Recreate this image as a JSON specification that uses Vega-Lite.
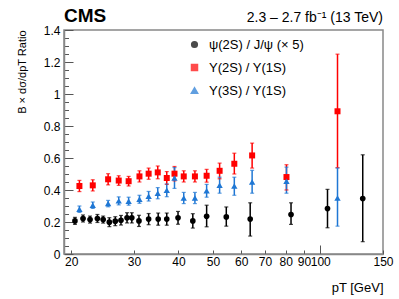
{
  "$schema": "https://vega.github.io/schema/vega-lite/v6.json",
  "width": 319,
  "height": 224,
  "autosize": {"type": "none"},
  "padding": {"left": 64, "top": 30, "right": 16, "bottom": 45},
  "background": "white",
  "config": {
    "font": "Liberation Sans",
    "view": {"stroke": "#888", "strokeWidth": 1.5},
    "axis": {"domainColor": "#888", "domainWidth": 1.5, "tickColor": "#555", "labelFont": "Liberation Sans", "labelFontSize": 12, "labelColor": "#000", "titleFont": "Liberation Sans", "titleFontWeight": "normal", "titleColor": "#000", "grid": false, "labelBound": false, "labelOverlap": false}
  },
  "datasets": {
    "pts": [
      {"s": "ψ(2S) / J/ψ (× 5)", "pt": 20.5, "v": 0.207, "lo": 0.185, "hi": 0.229},
      {"s": "ψ(2S) / J/ψ (× 5)", "pt": 21.6, "v": 0.222, "lo": 0.200, "hi": 0.244},
      {"s": "ψ(2S) / J/ψ (× 5)", "pt": 22.6, "v": 0.215, "lo": 0.193, "hi": 0.237},
      {"s": "ψ(2S) / J/ψ (× 5)", "pt": 23.7, "v": 0.222, "lo": 0.197, "hi": 0.247},
      {"s": "ψ(2S) / J/ψ (× 5)", "pt": 24.6, "v": 0.215, "lo": 0.193, "hi": 0.237},
      {"s": "ψ(2S) / J/ψ (× 5)", "pt": 25.6, "v": 0.199, "lo": 0.171, "hi": 0.227},
      {"s": "ψ(2S) / J/ψ (× 5)", "pt": 26.6, "v": 0.205, "lo": 0.177, "hi": 0.233},
      {"s": "ψ(2S) / J/ψ (× 5)", "pt": 27.6, "v": 0.211, "lo": 0.181, "hi": 0.241},
      {"s": "ψ(2S) / J/ψ (× 5)", "pt": 28.7, "v": 0.226, "lo": 0.194, "hi": 0.258},
      {"s": "ψ(2S) / J/ψ (× 5)", "pt": 29.6, "v": 0.226, "lo": 0.194, "hi": 0.258},
      {"s": "ψ(2S) / J/ψ (× 5)", "pt": 31.0, "v": 0.207, "lo": 0.172, "hi": 0.242},
      {"s": "ψ(2S) / J/ψ (× 5)", "pt": 33.0, "v": 0.218, "lo": 0.183, "hi": 0.253},
      {"s": "ψ(2S) / J/ψ (× 5)", "pt": 35.1, "v": 0.218, "lo": 0.180, "hi": 0.256},
      {"s": "ψ(2S) / J/ψ (× 5)", "pt": 37.1, "v": 0.218, "lo": 0.180, "hi": 0.256},
      {"s": "ψ(2S) / J/ψ (× 5)", "pt": 39.9, "v": 0.226, "lo": 0.186, "hi": 0.266},
      {"s": "ψ(2S) / J/ψ (× 5)", "pt": 43.9, "v": 0.207, "lo": 0.162, "hi": 0.252},
      {"s": "ψ(2S) / J/ψ (× 5)", "pt": 48.0, "v": 0.236, "lo": 0.170, "hi": 0.305},
      {"s": "ψ(2S) / J/ψ (× 5)", "pt": 54.5, "v": 0.232, "lo": 0.174, "hi": 0.294},
      {"s": "ψ(2S) / J/ψ (× 5)", "pt": 63.6, "v": 0.218, "lo": 0.112, "hi": 0.320},
      {"s": "ψ(2S) / J/ψ (× 5)", "pt": 82.8, "v": 0.247, "lo": 0.185, "hi": 0.320},
      {"s": "ψ(2S) / J/ψ (× 5)", "pt": 104.8, "v": 0.284, "lo": 0.164, "hi": 0.404},
      {"s": "ψ(2S) / J/ψ (× 5)", "pt": 131.6, "v": 0.347, "lo": 0.077, "hi": 0.620},
      {"s": "Υ(2S) / Υ(1S)", "pt": 21.1, "v": 0.425, "lo": 0.390, "hi": 0.460},
      {"s": "Υ(2S) / Υ(1S)", "pt": 23.0, "v": 0.429, "lo": 0.394, "hi": 0.464},
      {"s": "Υ(2S) / Υ(1S)", "pt": 25.4, "v": 0.467, "lo": 0.432, "hi": 0.502},
      {"s": "Υ(2S) / Υ(1S)", "pt": 27.2, "v": 0.459, "lo": 0.429, "hi": 0.489},
      {"s": "Υ(2S) / Υ(1S)", "pt": 29.0, "v": 0.455, "lo": 0.425, "hi": 0.485},
      {"s": "Υ(2S) / Υ(1S)", "pt": 31.1, "v": 0.485, "lo": 0.450, "hi": 0.520},
      {"s": "Υ(2S) / Υ(1S)", "pt": 33.0, "v": 0.502, "lo": 0.467, "hi": 0.537},
      {"s": "Υ(2S) / Υ(1S)", "pt": 35.0, "v": 0.510, "lo": 0.470, "hi": 0.550},
      {"s": "Υ(2S) / Υ(1S)", "pt": 37.1, "v": 0.475, "lo": 0.435, "hi": 0.515},
      {"s": "Υ(2S) / Υ(1S)", "pt": 39.0, "v": 0.502, "lo": 0.457, "hi": 0.547},
      {"s": "Υ(2S) / Υ(1S)", "pt": 41.4, "v": 0.485, "lo": 0.450, "hi": 0.520},
      {"s": "Υ(2S) / Υ(1S)", "pt": 44.5, "v": 0.485, "lo": 0.450, "hi": 0.520},
      {"s": "Υ(2S) / Υ(1S)", "pt": 48.0, "v": 0.489, "lo": 0.449, "hi": 0.529},
      {"s": "Υ(2S) / Υ(1S)", "pt": 52.2, "v": 0.520, "lo": 0.470, "hi": 0.568},
      {"s": "Υ(2S) / Υ(1S)", "pt": 57.4, "v": 0.564, "lo": 0.500, "hi": 0.630},
      {"s": "Υ(2S) / Υ(1S)", "pt": 64.4, "v": 0.616, "lo": 0.537, "hi": 0.693},
      {"s": "Υ(2S) / Υ(1S)", "pt": 80.4, "v": 0.481, "lo": 0.400, "hi": 0.558},
      {"s": "Υ(2S) / Υ(1S)", "pt": 111.8, "v": 0.892, "lo": 0.540, "hi": 1.249},
      {"s": "Υ(3S) / Υ(1S)", "pt": 21.1, "v": 0.280, "lo": 0.260, "hi": 0.300},
      {"s": "Υ(3S) / Υ(1S)", "pt": 23.0, "v": 0.305, "lo": 0.285, "hi": 0.325},
      {"s": "Υ(3S) / Υ(1S)", "pt": 25.4, "v": 0.315, "lo": 0.295, "hi": 0.335},
      {"s": "Υ(3S) / Υ(1S)", "pt": 27.2, "v": 0.332, "lo": 0.307, "hi": 0.357},
      {"s": "Υ(3S) / Υ(1S)", "pt": 29.0, "v": 0.330, "lo": 0.305, "hi": 0.355},
      {"s": "Υ(3S) / Υ(1S)", "pt": 31.1, "v": 0.342, "lo": 0.317, "hi": 0.367},
      {"s": "Υ(3S) / Υ(1S)", "pt": 33.0, "v": 0.361, "lo": 0.331, "hi": 0.391},
      {"s": "Υ(3S) / Υ(1S)", "pt": 35.0, "v": 0.380, "lo": 0.345, "hi": 0.415},
      {"s": "Υ(3S) / Υ(1S)", "pt": 37.1, "v": 0.398, "lo": 0.358, "hi": 0.438},
      {"s": "Υ(3S) / Υ(1S)", "pt": 39.0, "v": 0.475, "lo": 0.410, "hi": 0.540},
      {"s": "Υ(3S) / Υ(1S)", "pt": 41.4, "v": 0.350, "lo": 0.315, "hi": 0.385},
      {"s": "Υ(3S) / Υ(1S)", "pt": 44.5, "v": 0.350, "lo": 0.315, "hi": 0.385},
      {"s": "Υ(3S) / Υ(1S)", "pt": 48.0, "v": 0.395, "lo": 0.355, "hi": 0.435},
      {"s": "Υ(3S) / Υ(1S)", "pt": 52.2, "v": 0.429, "lo": 0.380, "hi": 0.480},
      {"s": "Υ(3S) / Υ(1S)", "pt": 57.4, "v": 0.425, "lo": 0.367, "hi": 0.480},
      {"s": "Υ(3S) / Υ(1S)", "pt": 64.4, "v": 0.450, "lo": 0.380, "hi": 0.523},
      {"s": "Υ(3S) / Υ(1S)", "pt": 80.4, "v": 0.454, "lo": 0.380, "hi": 0.543},
      {"s": "Υ(3S) / Υ(1S)", "pt": 111.8, "v": 0.350, "lo": 0.174, "hi": 0.537}
    ],
    "lumi": [{"pt": 150, "v": 1.4, "t": "2.3 – 2.7 fb⁻¹ (13 TeV)"}],
    "cms": [{"pt": 19.1, "v": 1.4, "t": "CMS"}]
  },
  "encoding": {
    "x": {"field": "pt", "type": "quantitative", "scale": {"type": "log", "domain": [19.1, 150], "nice": false},
      "axis": {"values": [20, 30, 40, 50, 60, 70, 80, 90, 100, 150], "labelExpr": "format(datum.value, 'd')", "labelFlush": false, "labelOverlap": false, "labelSeparation": -6,
        "tickSize": {"condition": {"test": "datum.value == 100", "value": -9}, "value": -4},
        "labelPadding": {"condition": {"test": "datum.value == 100", "value": 11}, "value": 6},
        "title": "pT [GeV]", "titleAnchor": "end", "titleFontSize": 13, "titlePadding": 14}},
    "y": {"field": "v", "type": "quantitative", "scale": {"domain": [0, 1.4], "nice": false},
      "axis": {"values": [0, 0.05, 0.1, 0.15, 0.2, 0.25, 0.3, 0.35, 0.4, 0.45, 0.5, 0.55, 0.6, 0.65, 0.7, 0.75, 0.8, 0.85, 0.9, 0.95, 1, 1.05, 1.1, 1.15, 1.2, 1.25, 1.3, 1.35, 1.4],
        "labelExpr": "abs(datum.value*5 - round(datum.value*5)) < 0.001 ? format(datum.value, '~g') : ''",
        "tickSize": {"condition": {"test": "abs(datum.value*5 - round(datum.value*5)) < 0.001", "value": -9}, "value": -4.5},
        "labelPadding": 13, "labelFlush": false, "labelOverlap": false,
        "title": "B × dσ/dpT Ratio", "titleFontSize": 11, "titleAngle": 270, "titleAlign": "right", "titleAnchor": "end", "titleX": -42, "titleY": 0, "titleBaseline": "middle"}},
    "color": {"field": "s", "type": "nominal", "scale": {"domain": ["ψ(2S) / J/ψ (× 5)", "Υ(2S) / Υ(1S)", "Υ(3S) / Υ(1S)"], "range": ["#000000", "#ff0000", "#1f77d4"]},
      "legend": {"orient": "none", "legendX": 124, "legendY": 8, "title": null, "labelFontSize": 13, "labelFont": "Liberation Sans", "rowPadding": 9, "symbolSize": 14, "labelOffset": 8}}
  },
  "layer": [
    {
      "data": {"name": "pts"},
      "mark": {"type": "rule", "strokeWidth": 1.5},
      "encoding": {
        "y": {"field": "lo", "type": "quantitative",
          "axis": {"values": [0, 0.05, 0.1, 0.15, 0.2, 0.25, 0.3, 0.35, 0.4, 0.45, 0.5, 0.55, 0.6, 0.65, 0.7, 0.75, 0.8, 0.85, 0.9, 0.95, 1, 1.05, 1.1, 1.15, 1.2, 1.25, 1.3, 1.35, 1.4],
            "labelExpr": "abs(datum.value*5 - round(datum.value*5)) < 0.001 ? format(datum.value, '~g') : ''",
            "tickSize": {"condition": {"test": "abs(datum.value*5 - round(datum.value*5)) < 0.001", "value": -9}, "value": -4.5},
            "labelPadding": 13, "labelFlush": false, "labelOverlap": false,
            "title": "B × dσ/dpT Ratio", "titleFontSize": 11, "titleAngle": 270, "titleAlign": "right", "titleAnchor": "end", "titleX": -42, "titleY": 0, "titleBaseline": "middle"}},
        "y2": {"field": "hi"}
      }
    },
    {
      "data": {"name": "pts"},
      "transform": [{"fold": ["lo", "hi"], "as": ["k", "e"]}],
      "mark": {"type": "tick", "orient": "horizontal", "size": 4, "thickness": 1.2},
      "encoding": {
        "y": {"field": "e", "type": "quantitative",
          "axis": {"values": [0, 0.05, 0.1, 0.15, 0.2, 0.25, 0.3, 0.35, 0.4, 0.45, 0.5, 0.55, 0.6, 0.65, 0.7, 0.75, 0.8, 0.85, 0.9, 0.95, 1, 1.05, 1.1, 1.15, 1.2, 1.25, 1.3, 1.35, 1.4],
            "labelExpr": "abs(datum.value*5 - round(datum.value*5)) < 0.001 ? format(datum.value, '~g') : ''",
            "tickSize": {"condition": {"test": "abs(datum.value*5 - round(datum.value*5)) < 0.001", "value": -9}, "value": -4.5},
            "labelPadding": 13, "labelFlush": false, "labelOverlap": false,
            "title": "B × dσ/dpT Ratio", "titleFontSize": 11, "titleAngle": 270, "titleAlign": "right", "titleAnchor": "end", "titleX": -42, "titleY": 0, "titleBaseline": "middle"}}
      }
    },
    {
      "data": {"name": "pts"},
      "mark": {"type": "point", "filled": true, "opacity": 1},
      "encoding": {
        "shape": {"field": "s", "type": "nominal", "scale": {"domain": ["ψ(2S) / J/ψ (× 5)", "Υ(2S) / Υ(1S)", "Υ(3S) / Υ(1S)"], "range": ["circle", "square", "triangle-up"]},
          "legend": {"orient": "none", "legendX": 124, "legendY": 8, "title": null, "labelFontSize": 13, "labelFont": "Liberation Sans", "rowPadding": 9, "symbolSize": 14, "labelOffset": 8}},
        "size": {"field": "s", "type": "nominal", "scale": {"domain": ["ψ(2S) / J/ψ (× 5)", "Υ(2S) / Υ(1S)", "Υ(3S) / Υ(1S)"], "range": [32, 40, 30]}, "legend": null}
      }
    },
    {
      "data": {"name": "lumi"},
      "mark": {"type": "text", "align": "right", "baseline": "bottom", "dy": -5, "fontSize": 14, "font": "Liberation Sans", "color": "#000"},
      "encoding": {
        "color": {"value": "#000"},
        "text": {"field": "t"}
      }
    },
    {
      "data": {"name": "cms"},
      "mark": {"type": "text", "align": "left", "baseline": "bottom", "dy": -4, "fontSize": 19, "fontWeight": "bold", "font": "Liberation Sans", "color": "#000"},
      "encoding": {
        "color": {"value": "#000"},
        "text": {"field": "t"}
      }
    }
  ]
}
